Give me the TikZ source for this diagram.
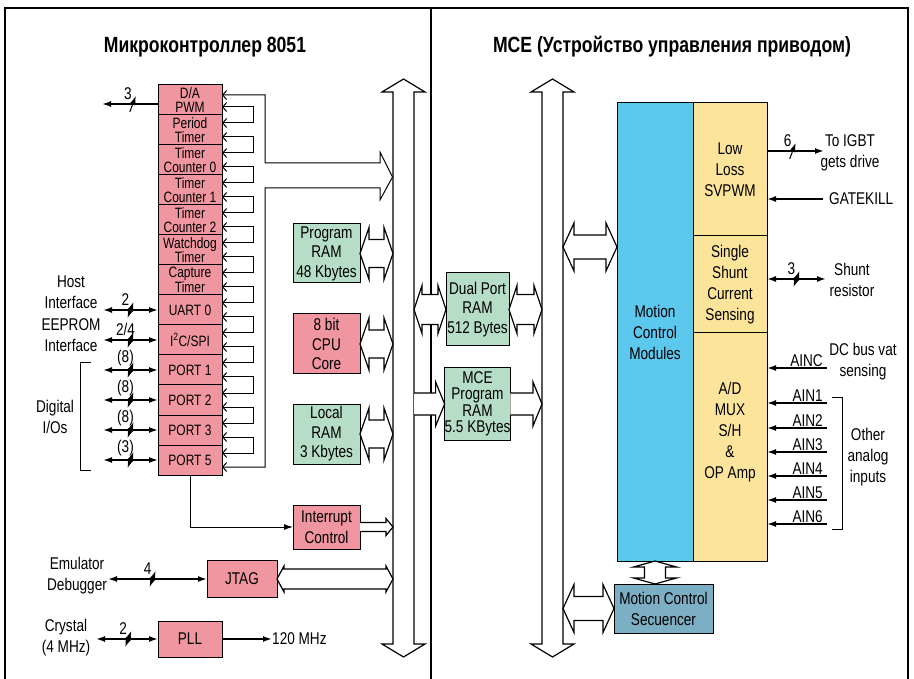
\documentclass[tikz,border=0pt]{standalone}
\usepackage{fontspec}
\setmainfont{Liberation Sans}[FakeStretch=0.8]
\usetikzlibrary{arrows.meta,calc,positioning}

\definecolor{pinkbox}{RGB}{240,150,160}
\definecolor{greenbox}{RGB}{182,221,198}
\definecolor{cyanbox}{RGB}{92,200,238}
\definecolor{yellowbox}{RGB}{252,229,154}
\definecolor{seqbox}{RGB}{124,175,195}

\newcommand{\lbl}{\fontsize{17}{21}\selectfont}
\newcommand{\midlbl}{\fontsize{17}{19.5}\selectfont}
\newcommand{\mcelbl}{\fontsize{17}{16.5}\selectfont}
\newcommand{\tightlbl}{\fontsize{15}{14.5}\selectfont}

% fat double arrow, left to right, y taken from #1
\newcommand{\fatboth}[5]{%
  \draw[fat] let \p1=(#1), \p2=(#2) in
    (\x1,\y1) -- (\x1+#5,\y1+#4) -- (\x1+#5,\y1+#3) -- (\x2-#5,\y1+#3) -- (\x2-#5,\y1+#4)
    -- (\x2,\y1) -- (\x2-#5,\y1-#4) -- (\x2-#5,\y1-#3) -- (\x1+#5,\y1-#3) -- (\x1+#5,\y1-#4) -- cycle;}
% fat single arrow pointing right
\newcommand{\fatone}[5]{%
  \draw[fat] let \p1=(#1), \p2=(#2) in
    (\x1,\y1+#3) -- (\x2-#5,\y1+#3) -- (\x2-#5,\y1+#4) -- (\x2,\y1)
    -- (\x2-#5,\y1-#4) -- (\x2-#5,\y1-#3) -- (\x1,\y1-#3);}
% fat double arrow, top to bottom, x taken from #1
\newcommand{\fatv}[5]{%
  \draw[fat] let \p1=(#1), \p2=(#2) in
    (\x1,\y1) -- (\x1+#4,\y1-#5) -- (\x1+#3,\y1-#5) -- (\x1+#3,\y2+#5) -- (\x1+#4,\y2+#5)
    -- (\x1,\y2) -- (\x1-#4,\y2+#5) -- (\x1-#3,\y2+#5) -- (\x1-#3,\y1-#5) -- (\x1-#4,\y1-#5) -- cycle;}

\tikzset{
  blk/.style={draw, line width=1pt, inner sep=0pt, outer sep=0pt, align=center, font=\lbl},
  pbox/.style={blk, fill=pinkbox, minimum width=64, minimum height=30, font=\tightlbl},
  txt/.style={align=center, font=\lbl, inner sep=0pt},
  title/.style={font=\fontsize{22}{26}\selectfont\bfseries, inner sep=0pt},
  cnt/.style={font=\lbl, inner sep=0.5pt, above=3pt, xshift=-5pt},
  ain/.style={font=\lbl, inner sep=1pt, anchor=south east, xshift=-3pt},
  sig/.style={line width=1.6pt},
  fat/.style={draw, line width=1.2pt, fill=white, line join=miter},
  inarr/.style={line width=1pt, {Straight Barb[length=4pt,width=9pt]}-{Straight Barb[length=4pt,width=9pt]}},
  slash/.pic={\draw[line width=1pt] (-3,8) -- (3,-8);}
}

\begin{document}
\begin{tikzpicture}[x=1pt, y=-1pt, >={Latex[length=9pt,width=6pt]}]
  \useasboundingbox (0,0) rectangle (914,679);

  % Frame
  \draw[line width=1.2pt] (5,679) |- (908,8) -- (908,679);
  \draw[line width=1.2pt] (431,8) -- (431,679);

  % Titles
  \node[title] (t8051) at (205,47) {Микроконтроллер 8051};
  \node[title] (tmce) at (672,47) {MCE (Устройство управления приводом)};

  % Buses
  \coordinate (busA-top) at (403.5,79);
  \coordinate (busA-bot) at (403.5,657);
  \coordinate (busB-top) at (552.5,79);
  \coordinate (busB-bot) at (552.5,657);
  \coordinate (bA1) at (393,0);
  \coordinate (bA2) at (414,0);
  \coordinate (bB1) at (542,0);
  \coordinate (bB2) at (563,0);
  \fatv{busA-top}{busA-bot}{10.5pt}{21.5pt}{13pt}
  \fatv{busB-top}{busB-bot}{10.5pt}{21.5pt}{13pt}

  % 8051 peripherals
  \node[pbox] (da) at (190,100) {D/A\\PWM};
  \node[pbox] (ptim) at (190,130) {Period\\Timer};
  \node[pbox] (tc0) at (190,160) {Timer\\Counter 0};
  \node[pbox] (tc1) at (190,190) {Timer\\Counter 1};
  \node[pbox] (tc2) at (190,220) {Timer\\Counter 2};
  \node[pbox] (wdt) at (190,250) {Watchdog\\Timer};
  \node[pbox] (cap) at (190,280) {Capture\\Timer};
  \node[pbox] (uart) at (190,310) {UART 0};
  \node[pbox] (i2c) at (190,340) {I\textsuperscript{2}C/SPI};
  \node[pbox] (p1) at (190,370) {PORT 1};
  \node[pbox] (p2) at (190,400) {PORT 2};
  \node[pbox] (p3) at (190,430) {PORT 3};
  \node[pbox] (p5) at (190,460) {PORT 5};

  % peripheral inputs from the bus
  \draw[inarr] ([yshift=5pt]da.east) -| (265,163) -- (380,163) -- (380,152) -- (392.5,177)
    -- (380,200) -- (380,188) -- (265,188) |- ([yshift=-7pt]p5.east);
  \foreach \a in {da,ptim,tc0,tc1,tc2,wdt,cap,uart,i2c,p1,p2,p3}{
    \draw[inarr] ([yshift=8pt]\a.south east) -- ++(31,0) -- ++(0,16) -- ++(-31,0);
  }

  % memories and core
  \node[blk, fill=greenbox, minimum width=67, minimum height=59, font=\midlbl] (pram) at (326.5,253.5) {Program\\RAM\\48 Kbytes};
  \node[blk, fill=pinkbox, minimum width=67, minimum height=60, font=\midlbl] (cpu) at (326.5,344) {8 bit\\CPU\\Core};
  \node[blk, fill=greenbox, minimum width=67, minimum height=60, font=\midlbl] (lram) at (326.5,434) {Local\\RAM\\3 Kbytes};
  \node[blk, fill=pinkbox, minimum width=67, minimum height=44] (intc) at (326.5,527) {Interrupt\\Control};
  \node[blk, fill=pinkbox, minimum width=70, minimum height=37] (jtag) at (242,579) {JTAG};
  \node[blk, fill=pinkbox, minimum width=64, minimum height=36] (pll) at (190,639) {PLL};
  \node[blk, fill=greenbox, minimum width=63, minimum height=73, font=\midlbl] (dpram) at (477.5,309.5) {Dual Port\\RAM\\512 Bytes};
  \node[blk, fill=greenbox, minimum width=63, minimum height=72, font=\mcelbl] (mceram) at (477.5,404) {MCE\\Program\\RAM\\5.5 KBytes};

  \fatboth{pram.east}{pram.east -| bA1}{14pt}{26pt}{9pt}
  \fatboth{cpu.east}{cpu.east -| bA1}{14pt}{26pt}{9pt}
  \fatboth{lram.east}{lram.east -| bA1}{14pt}{26pt}{9pt}
  \fatone{intc.east}{intc.east -| bA1}{4.5pt}{8.5pt}{7pt}
  \fatboth{jtag.east}{jtag.east -| bA1}{10pt}{13pt}{7pt}
  \fatboth{dpram.west -| bA2}{dpram.west}{15pt}{24pt}{8pt}
  \fatboth{dpram.east}{dpram.east -| bB1}{15pt}{24pt}{8pt}
  \fatone{mceram.west -| bA2}{mceram.west}{11pt}{22pt}{9pt}
  \fatone{mceram.east}{mceram.east -| bB1}{11pt}{22pt}{9pt}

  \draw[line width=1pt, ->] (p5.south) |- (intc.west);

  % left side signals
  \coordinate (daout) at (102,104);
  \draw[sig, ->] (da.west |- daout) -- (daout) pic[pos=.45]{slash} node[cnt, pos=.45] (n-da) {3};
  \foreach \b/\c in {uart/2, i2c/{2/4}, p1/{(8)}, p2/{(8)}, p3/{(8)}, p5/{(3)}}{
    \draw[sig, <->] (\b.west) -- ++(-55,0) pic[pos=.5]{slash} node[cnt, pos=.5] (n-\b) {\c};
  }
  \node[txt] (host) at (71,292.5) {Host\\Interface};
  \node[txt] (eeprom) at (71,335) {EEPROM\\Interface};
  \node[txt] (dio) at (55,417) {Digital\\I/Os};
  \draw[line width=1pt] (91,363) -| (80,470) -- (91,470);

  \coordinate (emuend) at (108,579);
  \draw[sig, <->] (emuend) -- (jtag.west) pic[pos=.45]{slash} node[cnt, pos=.45] (n-jtag) {4};
  \node[txt] (emu) at (77,576) {Emulator\\Debugger};

  \coordinate (xtalend) at (96,639);
  \draw[sig, <->] (xtalend) -- (pll.west) pic[pos=.52]{slash} node[cnt, pos=.52] (n-pll) {2};
  \node[txt] (xtal) at (66,638) {Crystal\\(4 MHz)};
  \node[txt, anchor=west] (mhz) at (272,639) {120 MHz};
  \draw[sig, ->] (pll.east) -- (mhz.west);

  % MCE
  \node[blk, fill=cyanbox, minimum width=76, minimum height=458] (mcm) at (655,332) {Motion\\Control\\Modules};
  \node[blk, fill=yellowbox, minimum width=74, minimum height=133] (svpwm) at (730,169.5) {Low\\Loss\\SVPWM};
  \node[blk, fill=yellowbox, minimum width=74, minimum height=97] (shunt) at (730,284.5) {Single\\Shunt\\Current\\Sensing};
  \node[blk, fill=yellowbox, minimum width=74, minimum height=228] (adc) at (730,447) {};
  \node[txt] (adctxt) at (730,432) {A/D\\MUX\\S/H\\\&\\OP Amp};
  \node[blk, fill=seqbox, minimum width=99, minimum height=49] (seq) at (663.5,608.5) {Motion Control\\Secuencer};

  \coordinate (mcmport) at ([yshift=-144pt]mcm.north west);
  \fatboth{mcmport -| bB2}{mcmport}{12pt}{24pt}{11pt}
  \fatboth{seq.west -| bB2}{seq.west}{12pt}{24pt}{11pt}
  \fatv{mcm.south}{mcm.south |- seq.north}{10.5pt}{21.5pt}{6pt}

  % MCE signals
  \coordinate (igbtend) at (824,151);
  \draw[sig, ->] (svpwm.east |- igbtend) -- (igbtend) pic[pos=.45]{slash} node[cnt, pos=.45] (n-igbt) {6};
  \node[txt] (igbt) at (850,152.5) {To IGBT\\gets drive};
  \coordinate (gkstart) at (823,199);
  \draw[sig, ->] (gkstart) -- (svpwm.east |- gkstart);
  \node[txt, anchor=west] (gatekill) at (829,199) {GATEKILL};
  \coordinate (shuntend) at (826,279);
  \draw[sig, <->] (shunt.east |- shuntend) -- (shuntend) pic[pos=.5]{slash} node[cnt, pos=.5] (n-shunt) {3};
  \node[txt] (shres) at (852,280) {Shunt\\resistor};

  \coordinate (ainc) at (827,368);
  \draw[sig, ->] (ainc) -- (adc.east |- ainc);
  \node[ain] (l-ainc) at (ainc) {AINC};
  \node[txt] (dcbus) at (863,362) {DC bus vat\\sensing};
  \foreach \n/\y in {1/403,2/428,3/452,4/476,5/500,6/524}{
    \coordinate (ain\n) at (827,\y);
    \draw[sig, ->] (ain\n) -- (adc.east |- ain\n);
    \node[ain] (l-ain\n) at (ain\n) {AIN\n};
  }
  \draw[line width=1pt] (832,397) -| (842,529) -- (832,529);
  \node[txt] (other) at (868,457) {Other\\analog\\inputs};
\end{tikzpicture}
\end{document}
